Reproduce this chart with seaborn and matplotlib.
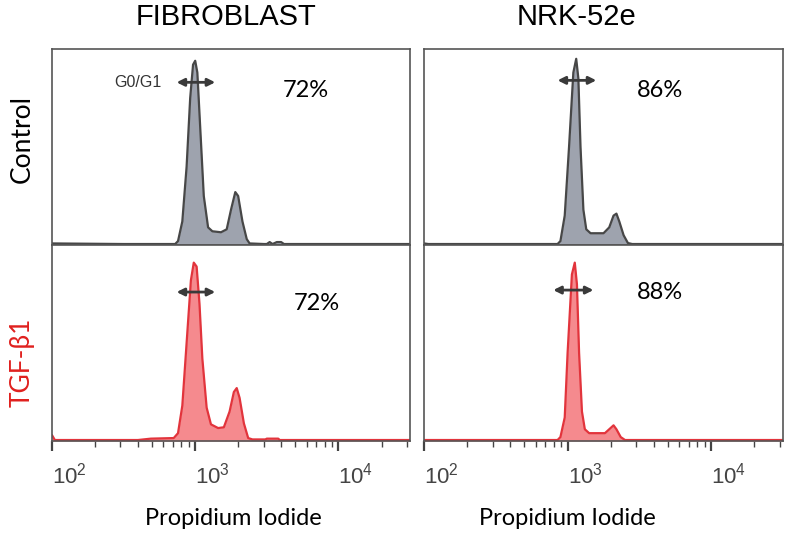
import matplotlib
matplotlib.use("Agg")
import matplotlib.pyplot as plt
import numpy as np
import pandas as pd
import seaborn as sns

# panel titles / row labels
CELL_LINES = ["FIBROBLAST", "NRK-52e"]
CONDITIONS = ["Control", "TGF-\u03b21"]
PERCENTS = [["72%", "72%"], ["86%", "88%"]]  # [cell line][condition]

# histogram traces: x in log10(PI intensity), y as fraction of panel height
FIB_CTRL_X = [2.00, 2.50, 2.86, 2.88, 2.91, 2.94, 2.965, 2.985, 3.00, 3.015, 3.035, 3.06, 3.09,
              3.12, 3.18, 3.22, 3.25, 3.28, 3.30, 3.33, 3.36, 3.38, 3.48, 3.50, 3.52, 3.54,
              3.57, 3.60, 3.62, 4.50]
FIB_CTRL_Y = [0.008, 0.005, 0.005, 0.02, 0.12, 0.40, 0.75, 0.92, 0.94, 0.88, 0.60, 0.25, 0.09,
              0.07, 0.065, 0.08, 0.18, 0.27, 0.25, 0.12, 0.03, 0.008, 0.005, 0.005, 0.015, 0.005,
              0.015, 0.015, 0.005, 0.005]

FIB_TGF_X = [2.00, 2.02, 2.60, 2.69, 2.85, 2.88, 2.91, 2.94, 2.97, 2.99, 3.01, 3.03, 3.05, 3.08,
             3.11, 3.16, 3.20, 3.24, 3.27, 3.29, 3.31, 3.34, 3.37, 3.40, 3.49, 3.50, 3.58,
             3.59, 4.50]
FIB_TGF_Y = [0.03, 0.005, 0.005, 0.012, 0.015, 0.04, 0.18, 0.50, 0.82, 0.91, 0.89, 0.70, 0.42,
             0.17, 0.085, 0.066, 0.07, 0.15, 0.25, 0.27, 0.22, 0.09, 0.015, 0.008, 0.008, 0.012,
             0.012, 0.005, 0.005]

NRK_CTRL_X = [2.00, 2.03, 2.93, 2.95, 2.98, 3.01, 3.04, 3.06, 3.075, 3.09, 3.11, 3.13, 3.16,
              3.25, 3.29, 3.32, 3.34, 3.36, 3.39, 3.42, 3.45, 4.50]
NRK_CTRL_Y = [0.008, 0.005, 0.005, 0.02, 0.15, 0.50, 0.88, 0.95, 0.85, 0.50, 0.18, 0.08, 0.06,
              0.06, 0.09, 0.15, 0.16, 0.12, 0.05, 0.01, 0.005, 0.005]

NRK_TGF_X = [2.00, 2.93, 2.95, 2.98, 3.00, 3.03, 3.05, 3.065, 3.08, 3.10, 3.12, 3.15, 3.26,
             3.29, 3.32, 3.34, 3.37, 3.40, 4.50]
NRK_TGF_Y = [0.005, 0.005, 0.02, 0.12, 0.45, 0.85, 0.91, 0.80, 0.45, 0.15, 0.06, 0.04, 0.04,
             0.06, 0.08, 0.06, 0.02, 0.005, 0.005]

# G0/G1 gate arrows (log10 start, log10 end, height) and percentage label positions
ARROWS = [[(2.87, 3.14, 0.83), (2.87, 3.14, 0.76)],
          [(2.93, 3.20, 0.84), (2.90, 3.18, 0.77)]]
PCT_POS = [[(3.77, 0.79), (3.85, 0.70)],
           [(3.64, 0.79), (3.64, 0.76)]]

TRACES = [[(FIB_CTRL_X, FIB_CTRL_Y), (FIB_TGF_X, FIB_TGF_Y)],
          [(NRK_CTRL_X, NRK_CTRL_Y), (NRK_TGF_X, NRK_TGF_Y)]]

LINE_COLORS = ["#474747", "#e2343c"]
FILL_COLORS = ["#9ea3ae", "#f58a8e"]
ROW_COLORS = ["black", "#e0201e"]

sns.set_theme(style="white")
plt.rcParams["font.family"] = ["Lato", "DejaVu Sans"]
plt.rcParams["mathtext.fontset"] = "custom"
plt.rcParams["mathtext.rm"] = "Liberation Sans"
plt.rcParams["mathtext.it"] = "Liberation Sans"

fig = plt.figure(figsize=(7.99, 5.40), dpi=100)

# axes boxes in figure pixels: (left, right) per column, (top, bottom) per row
COL_PX = [(52, 410), (424, 783)]
ROW_PX = [(49, 245), (245, 441)]
W, H = 799, 540


def log_fmt(v, pos):
    return "$10^{%d}$" % int(round(np.log10(v)))


for c, (x0, x1) in enumerate(COL_PX):
    for r, (y0, y1) in enumerate(ROW_PX):
        ax = fig.add_axes([x0 / W, 1 - y1 / H, (x1 - x0) / W, (y1 - y0) / H])
        xs, ys = TRACES[c][r]
        df = pd.DataFrame({"pi": 10 ** np.array(xs), "count": ys})
        ax.fill_between(df["pi"], 0, df["count"], color=FILL_COLORS[r], lw=0, zorder=1)
        sns.lineplot(data=df, x="pi", y="count", ax=ax, color=LINE_COLORS[r], lw=1.6,
                     zorder=2, sort=False)
        ax.set_xscale("log")
        ax.set_xlim(10 ** 2, 10 ** 4.5)
        ax.set_ylim(0, 1)
        ax.set_yticks([])
        ax.set_ylabel("")
        for sp in ax.spines.values():
            sp.set_color("#555555")
            sp.set_linewidth(1.2)

        a0, a1, ay = ARROWS[c][r]
        ax.annotate("", xy=(10 ** a0, ay), xytext=(10 ** a1, ay),
                    arrowprops=dict(arrowstyle="<|-|>", color="#3a3a3a", lw=2,
                                    mutation_scale=11, shrinkA=0, shrinkB=0))
        px, py = PCT_POS[c][r]
        ax.text(10 ** px, py, PERCENTS[c][r], ha="center", va="center", fontsize=17,
                color="black")

        if c == 0 and r == 0:
            ax.text(10 ** 2.60, 0.83, "G0/G1", ha="center", va="center", fontsize=11.5,
                    color="#333333", family=["Liberation Sans"])

        if r == 0:
            ax.set_xticks([])
            ax.set_xticks([], minor=True)
            ax.set_xlabel("")
            ax.set_title(CELL_LINES[c], fontsize=21, family=["Liberation Sans"], pad=17,
                         x=[0.485, 0.425][c], color="black")
        else:
            ax.xaxis.set_major_formatter(matplotlib.ticker.FuncFormatter(log_fmt))
            ax.tick_params(axis="x", which="major", direction="out", length=7, width=1.6,
                           color="#444444", pad=8, labelsize=16, labelcolor="#444444",
                           bottom=True)
            ax.tick_params(axis="x", which="minor", direction="out", length=4, width=1.0,
                           color="#444444", bottom=True)
            for lab in ax.get_xticklabels():
                lab.set_horizontalalignment("left")
            ax.set_xlabel("Propidium Iodide", fontsize=17, color="black")
            ax.xaxis.set_label_coords([0.506, 0.398][c], -0.34)

        if c == 0:
            ax.text(-0.084, [0.54, 0.40][r], CONDITIONS[r], rotation=90, ha="center",
                    va="center", fontsize=19, color=ROW_COLORS[r], transform=ax.transAxes)

fig.savefig("out.png", dpi=100)
